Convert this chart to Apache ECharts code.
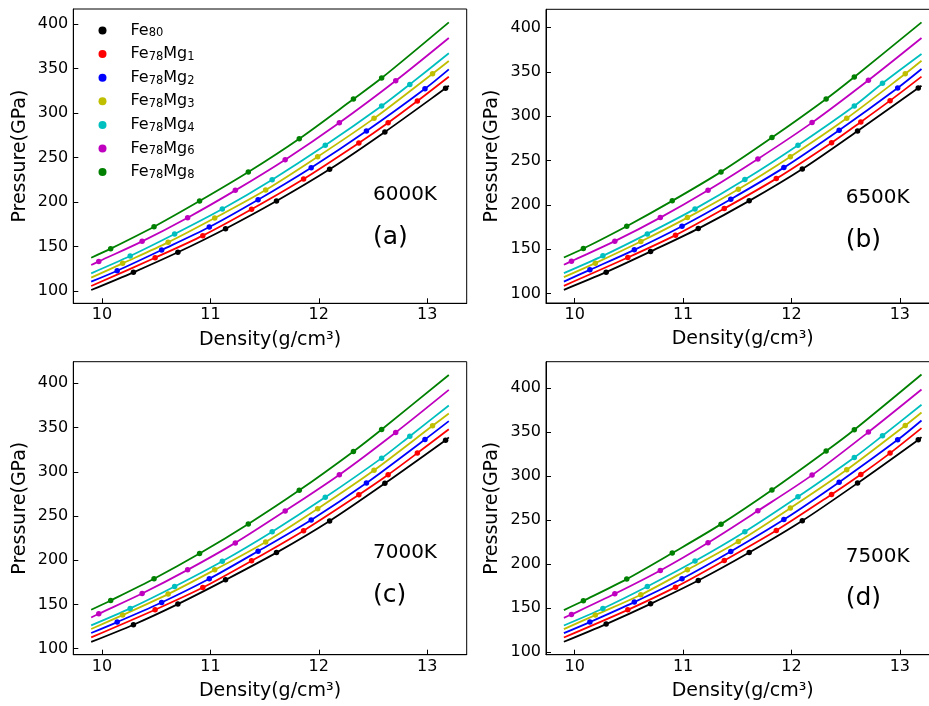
<!DOCTYPE html>
<html><head><meta charset="utf-8">
<script src="https://cdn.jsdelivr.net/npm/echarts@6/dist/echarts.min.js"></script>
<style>html,body{margin:0;padding:0;background:#fff}#c{width:929px;height:706px}</style>
</head><body><div id="c"></div>
<script>
// ---------- data ----------
const seriesNames = ['Fe80', 'Fe78Mg1', 'Fe78Mg2', 'Fe78Mg3', 'Fe78Mg4', 'Fe78Mg6', 'Fe78Mg8'];
const temperatures = ['6000K', '6500K', '7000K', '7500K'];
const panelTags = ['(a)', '(b)', '(c)', '(d)'];
const xTicks = [10, 11, 12, 13];
const yTicks = [100, 150, 200, 250, 300, 350, 400];
const fitStartDensity = 9.9;
const fitEndDensity = 13.2;

// sampled densities (g/cm3), one list per composition (same in all panels)
const dFe80   = [10.29, 10.70, 11.14, 11.61, 12.10, 12.61, 13.17];
const dFe78Mg1 = [10.49, 10.93, 11.38, 11.86, 12.37, 12.64, 12.91];
const dFe78Mg2 = [10.14, 10.55, 10.99, 11.44, 11.93, 12.44, 12.98];
const dFe78Mg3 = [10.19, 10.61, 11.04, 11.51, 11.99, 12.51, 13.05];
const dFe78Mg4 = [10.26, 10.67, 11.11, 11.57, 12.06, 12.58, 12.84];
const dFe78Mg6 = [9.97, 10.37, 10.79, 11.23, 11.69, 12.19, 12.71];
const dFe78Mg8 = [10.08, 10.48, 10.90, 11.35, 11.82, 12.32, 12.58];

// pressures (GPa) at each sampled density, per temperature, per composition
const p6000 = [
  [121.0, 143.5, 170.0, 201.1, 236.7, 278.7, 327.8],
  [137.4, 162.2, 191.8, 225.8, 266.3, 289.1, 313.5],
  [122.8, 146.1, 171.9, 202.6, 238.6, 279.8, 327.3],
  [131.1, 154.7, 182.0, 213.5, 250.9, 294.0, 344.2],
  [139.3, 164.0, 192.1, 225.1, 263.7, 307.9, 332.2],
  [133.3, 155.8, 182.4, 213.1, 247.6, 289.1, 336.3],
  [147.6, 172.3, 201.1, 233.7, 271.1, 315.7, 339.3]
];
const p6500 = [
  [124.1, 147.4, 173.3, 204.6, 240.6, 283.5, 332.0],
  [140.6, 165.9, 195.9, 229.7, 270.3, 293.7, 317.7],
  [126.7, 149.3, 176.0, 206.5, 242.1, 284.3, 332.0],
  [134.3, 158.7, 185.7, 217.8, 254.5, 297.8, 348.1],
  [142.5, 167.3, 195.5, 228.6, 267.4, 311.7, 337.3],
  [136.5, 159.1, 185.7, 216.6, 251.9, 292.9, 340.7],
  [150.8, 176.0, 204.6, 237.3, 276.0, 319.6, 344.4]
];
const p7000 = [
  [127.1, 150.4, 177.8, 208.6, 244.4, 286.9, 335.7],
  [144.0, 169.1, 199.3, 233.4, 274.0, 296.6, 321.1],
  [130.1, 152.2, 179.0, 210.2, 245.5, 287.2, 336.5],
  [138.0, 161.7, 189.1, 220.7, 258.2, 301.6, 351.9],
  [145.5, 170.3, 198.9, 232.3, 271.1, 315.4, 340.2],
  [139.5, 162.4, 189.1, 219.6, 255.7, 296.6, 344.4],
  [154.5, 179.0, 207.5, 241.0, 279.0, 323.0, 347.8]
];
const p7500 = [
  [131.5, 154.5, 181.0, 212.8, 248.9, 291.7, 340.9],
  [147.7, 173.5, 203.8, 237.9, 278.8, 301.5, 325.8],
  [133.8, 156.5, 183.0, 214.0, 250.3, 292.8, 340.9],
  [141.7, 164.8, 193.2, 225.3, 263.3, 306.8, 357.2],
  [149.2, 174.2, 203.1, 236.4, 276.1, 320.8, 345.5],
  [142.4, 165.9, 192.4, 223.9, 260.2, 300.8, 349.7],
  [158.0, 182.6, 212.2, 245.1, 283.8, 328.1, 352.3]
];
// fitted-curve pressures at the ends of the density range (9.9 and 13.2)
const fitStart6000 = [101.1, 105.6, 110.5, 115.0, 119.9, 129.2, 137.4];
const fitEnd6000   = [330.7, 340.8, 349.1, 358.4, 367.1, 384.3, 401.9];
const fitStart6500 = [104.2, 108.7, 113.5, 118.5, 123.0, 132.4, 140.6];
const fitEnd6500   = [334.6, 344.8, 353.4, 362.8, 370.3, 388.4, 406.1];
const fitStart7000 = [107.6, 112.7, 117.7, 122.2, 126.3, 135.3, 144.0];
const fitEnd7000   = [338.8, 348.1, 357.2, 365.8, 374.9, 392.5, 409.4];
const fitStart7500 = [111.4, 116.3, 121.2, 125.8, 129.9, 138.6, 147.4];
const fitEnd7500   = [344.0, 354.2, 362.9, 372.0, 380.7, 398.1, 415.1];

// ---------- assembly ----------
const densities = [dFe80, dFe78Mg1, dFe78Mg2, dFe78Mg3, dFe78Mg4, dFe78Mg6, dFe78Mg8];
const pressures = [p6000, p6500, p7000, p7500];
const fitStarts = [fitStart6000, fitStart6500, fitStart7000, fitStart7500];
const fitEnds = [fitEnd6000, fitEnd6500, fitEnd7000, fitEnd7500];

const colors = ['#000000', '#ff0000', '#0000ff', '#bfbf00', '#00bfbf', '#bf00bf', '#008000'];
const FONT = 'DejaVu Sans';
const grids = [
  {left: 73.3, top: 9, width: 393.4, height: 294.3},
  {left: 546, top: 9.3, width: 393.4, height: 293.7},
  {left: 73.3, top: 361.7, width: 393.4, height: 293},
  {left: 546, top: 361.7, width: 393.4, height: 293}
];
const yRanges = [[86.2, 416.9], [89.3, 420.8], [93.2, 424.4], [96.7, 429.7]];
const xRange = [9.735, 13.365];

const chart = echarts.init(document.getElementById('c'), null, {renderer: 'canvas'});

const gridOpt = grids.map(g => Object.assign({
  show: true, borderColor: '#000', borderWidth: 1, backgroundColor: '#fff',
  containLabel: false, outerBoundsMode: 'none'
}, g));

const xAxes = grids.map((g, i) => ({
  type: 'value', gridIndex: i, min: xRange[0], max: xRange[1],
  name: 'Density(g/cm³)', nameLocation: 'middle', nameGap: 27,
  nameTextStyle: {fontSize: 19, color: '#000', fontFamily: FONT},
  axisLine: {show: true, onZero: false, lineStyle: {color: '#000', width: 1}},
  axisTick: {show: true, inside: true, length: 5, customValues: xTicks, lineStyle: {color: '#000'}},
  axisLabel: {show: true, customValues: xTicks, fontSize: 16, color: '#000', fontFamily: FONT, margin: 4},
  splitLine: {show: false}
}));
const yAxes = grids.map((g, i) => ({
  type: 'value', gridIndex: i, min: yRanges[i][0], max: yRanges[i][1],
  name: 'Pressure(GPa)', nameLocation: 'middle', nameGap: 44,
  nameTextStyle: {fontSize: 19, color: '#000', fontFamily: FONT},
  axisLine: {show: true, onZero: false, lineStyle: {color: '#000', width: 1}},
  axisTick: {show: true, inside: true, length: 5, customValues: yTicks, lineStyle: {color: '#000'}},
  axisLabel: {show: true, customValues: yTicks, fontSize: 16, color: '#000', fontFamily: FONT, margin: 5},
  splitLine: {show: false}
}));

const series = [];
pressures.forEach((pp, p) => {
  seriesNames.forEach((nm, k) => {
    const pts = densities[k].map((d, j) => [d, pp[k][j]]);
    series.push({
      type: 'line', name: nm + ' fit', xAxisIndex: p, yAxisIndex: p,
      data: [[fitStartDensity, fitStarts[p][k]]].concat(pts, [[fitEndDensity, fitEnds[p][k]]]),
      smooth: 0.3, showSymbol: false, symbol: 'none', silent: true,
      lineStyle: {color: colors[k], width: 1.8}, itemStyle: {color: colors[k]}, z: 2
    });
    series.push({
      type: 'scatter', name: nm, xAxisIndex: p, yAxisIndex: p, data: pts,
      symbol: 'circle', symbolSize: 5.5, itemStyle: {color: colors[k], opacity: 1}, z: 3, silent: true
    });
  });
});

function richName(name) {
  return name.replace(/([A-Za-z]+)(\d+)/g, '{m|$1}{s|$2}');
}

chart.setOption({
  animation: false,
  backgroundColor: '#fff',
  textStyle: {fontFamily: FONT},
  grid: gridOpt,
  xAxis: xAxes,
  yAxis: yAxes,
  legend: {
    data: seriesNames, orient: 'vertical', left: 98.5, top: 22.5, padding: 0,
    itemWidth: 46, itemHeight: 8, itemGap: 6.6, icon: 'circle', selectedMode: false,
    formatter: richName,
    itemStyle: {opacity: 1},
    textStyle: {
      color: '#000', fontFamily: FONT, fontSize: 16,
      rich: {
        m: {fontSize: 16, lineHeight: 18, fontFamily: FONT, color: '#000'},
        s: {fontSize: 11.5, lineHeight: 11, verticalAlign: 'bottom', fontFamily: FONT, color: '#000'}
      }
    }
  },
  series: series
});

// annotations placed at data coordinates (12.5, 200) and (12.5, 150)
const graphics = [];
temperatures.forEach((t, p) => {
  const a = chart.convertToPixel({gridIndex: p}, [12.5, 200]);
  const b = chart.convertToPixel({gridIndex: p}, [12.5, 150]);
  graphics.push({type: 'text', silent: true, z: 10, style: {
    text: t, x: a[0], y: a[1] - 7, fill: '#000', fontSize: 20, fontFamily: FONT,
    align: 'left', verticalAlign: 'middle'}});
  graphics.push({type: 'text', silent: true, z: 10, style: {
    text: panelTags[p], x: b[0], y: b[1] - 9, fill: '#000', fontSize: 25, fontFamily: FONT,
    align: 'left', verticalAlign: 'middle'}});
});
chart.setOption({graphic: graphics});
</script>
</body></html>
